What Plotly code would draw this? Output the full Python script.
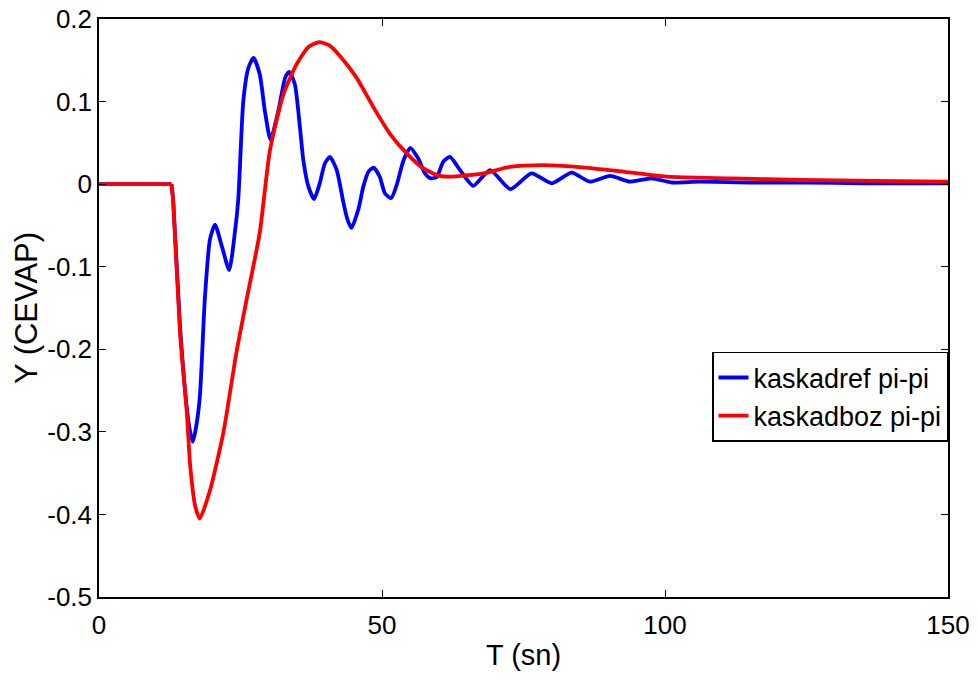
import plotly.graph_objects as go

# kaskadref pi-pi (blue)
t_ref = [0, 12.8, 13.1, 14.3, 15.5, 16.1, 16.55, 17.0, 17.8, 18.7, 19.6, 20.5, 21.7, 23.0, 24.0, 24.6,
         25.5, 26.4, 27.3, 28.4, 29.3, 30.3, 31.7, 32.9, 33.6, 34.6, 35.5, 36.1, 37.0, 38.0, 39.0, 39.9,
         40.8, 42.0, 43.2, 43.9, 44.6, 45.8, 46.7, 47.6, 48.5, 49.6, 50.5, 51.6, 52.6, 53.8, 55.0, 56.4,
         57.6, 58.6, 59.7, 60.8, 62.0, 63.8, 66.1, 69.1, 72.7, 76.4, 80.0, 83.5, 86.7, 90.3, 93.8, 97.6,
         101.2, 106, 115, 125, 135, 150]
y_ref = [0, 0, -0.019, -0.17, -0.27, -0.30, -0.312, -0.30, -0.259, -0.139, -0.067, -0.049, -0.075, -0.104,
         -0.059, -0.019, 0.101, 0.141, 0.153, 0.133, 0.089, 0.054, 0.089, 0.129, 0.136, 0.121, 0.069, 0.029,
         -0.003, -0.018, 0.001, 0.025, 0.033, 0.017, -0.023, -0.043, -0.053, -0.031, -0.003, 0.015, 0.020,
         0.009, -0.011, -0.017, -0.001, 0.029, 0.044, 0.031, 0.013, 0.007, 0.009, 0.027, 0.033, 0.017,
         -0.002, 0.017, -0.006, 0.013, 0.001, 0.014, 0.003, 0.010, 0.003, 0.007, 0.002, 0.003, 0.002,
         0.002, 0.001, 0.001]

# kaskadboz pi-pi (red)
t_boz = [0, 12.8, 13.1, 14.3, 15.5, 16.1, 17.0, 17.8, 19.6, 22.0, 24.3, 26.1, 28.4, 30.2, 32.6, 34.9,
         37.0, 38.9, 40.7, 42.6, 45.5, 48.5, 51.4, 54.4, 57.3, 60.2, 62.0, 67.9, 72.6, 78.5, 84.4, 91.5,
         100.3, 112, 124, 137, 150]
y_boz = [0, 0, -0.019, -0.179, -0.275, -0.34, -0.39, -0.405, -0.371, -0.30, -0.203, -0.139, -0.059,
         0.041, 0.109, 0.145, 0.166, 0.172, 0.168, 0.155, 0.129, 0.093, 0.061, 0.037, 0.019, 0.010, 0.009,
         0.013, 0.021, 0.023, 0.021, 0.016, 0.009, 0.007, 0.005, 0.004, 0.003]

x_ticks = [0, 50, 100, 150]
y_ticks = [0.2, 0.1, 0, -0.1, -0.2, -0.3, -0.4, -0.5]
y_tick_text = ["0.2", "0.1", "0", "-0.1", "-0.2", "-0.3", "-0.4", "-0.5"]

FONT = "Liberation Sans, Arial, sans-serif"
LW = 3.8

fig = go.Figure()
for name, color, tx, ty in [("kaskadref pi-pi", "#0000ff", t_ref, y_ref),
                            ("kaskadboz pi-pi", "#ff0000", t_boz, y_boz)]:
    # flat start segment (straight) then smooth response
    fig.add_trace(go.Scatter(x=tx[:2], y=ty[:2], mode="lines", name=name, legendgroup=name,
                             showlegend=False, line=dict(color=color, width=LW)))
    fig.add_trace(go.Scatter(x=tx[1:], y=ty[1:], mode="lines", name=name, legendgroup=name,
                             line=dict(color=color, width=LW, shape="spline", smoothing=0.6)))

axis_common = dict(showgrid=False, zeroline=False, showline=True, linecolor="black", linewidth=1.5,
                   mirror="ticks", ticks="inside", ticklen=7, tickcolor="black", tickwidth=1,
                   automargin=False, tickfont=dict(family=FONT, size=26, color="black"))

fig.update_layout(
    width=979, height=678,
    margin=dict(l=99, r=31, t=19, b=81),
    paper_bgcolor="white", plot_bgcolor="white",
    font=dict(family=FONT, size=26, color="black"),
    xaxis=dict(range=[0, 150], tickvals=x_ticks, ticktext=[str(v) for v in x_ticks],
               ticklabelstandoff=4,
               title=dict(text="T (sn)", font=dict(family=FONT, size=29), standoff=6), **axis_common),
    yaxis=dict(range=[-0.5, 0.2], tickvals=y_ticks, ticktext=y_tick_text,
               title=dict(text="Y (CEVAP)", font=dict(family=FONT, size=31), standoff=0), **axis_common),
    legend=dict(x=1, xanchor="right", y=0.424, yanchor="top", bgcolor="white",
                bordercolor="black", borderwidth=1.5, font=dict(family=FONT, size=27),
                itemwidth=30, tracegroupgap=0),
    showlegend=True,
)

fig.write_html("out.html")
